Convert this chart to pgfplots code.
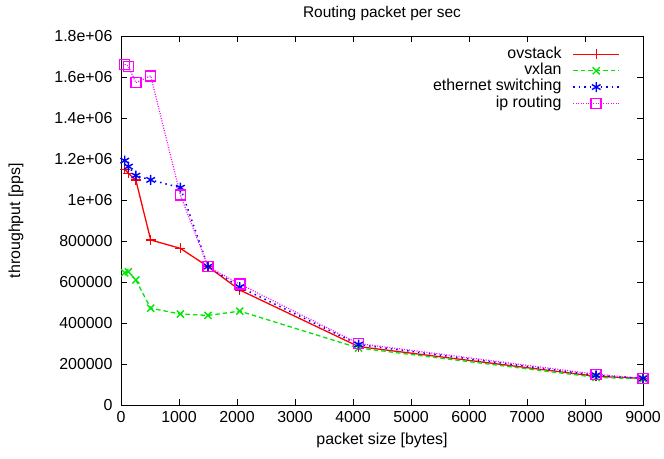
\documentclass[border=0pt]{standalone}
\usepackage{fontspec}
\setmainfont{Liberation Sans}
\usepackage{pgfplots}
\pgfplotsset{compat=1.18}
\definecolor{gpred}{RGB}{255,0,0}
\definecolor{gpgreen}{RGB}{0,230,0}
\definecolor{gpblue}{RGB}{0,0,255}
\definecolor{gpmag}{RGB}{255,0,255}

\begin{document}
\begin{tikzpicture}[x=1bp,y=1bp]
\begin{axis}[
    name=main,
    scale only axis,
    width=522bp,
    height=369bp,
    xmin=0, xmax=9000,
    ymin=0, ymax=1800000,
    xtick={0,1000,...,9000},
    ytick={0,200000,400000,600000,800000,1000000,1200000,1400000,1600000,1800000},
    yticklabels={0,200000,400000,600000,800000,1e+06,1.2e+06,1.4e+06,1.6e+06,1.8e+06},
    scaled ticks=false,
    /pgf/number format/set thousands separator={},
    /pgf/number format/fixed,
    /pgf/number format/assume math mode=true,
    tick align=inside,
    major tick length=6bp,
    axis line style={line width=1pt},
    tick style={line width=0.8pt, black},
    title={Routing packet per sec},
    title style={font=\fontsize{15.5}{17}\selectfont, at={(axis description cs:0.5,1.045)}, anchor=center},
    xlabel={packet size [bytes]},
    ylabel={throughput [pps]},
    tick label style={font=\fontsize{16}{18}\selectfont},
    xticklabel style={yshift=-3bp},
    yticklabel style={xshift=-5bp},
    label style={font=\fontsize{16}{18}\selectfont},
    xlabel style={at={(axis description cs:0.5,-0.095)}, anchor=center},
    ylabel style={at={(axis description cs:-0.201,0.5)}, anchor=center},
    legend style={
        at={(0.962,0.978)}, anchor=north east, draw=none, fill=none,
        font=\fontsize{16}{18}\selectfont, row sep=0bp,
        nodes={inner sep=0bp, text height=12bp, text depth=4.3bp},
    },
    legend cell align=right,
    legend plot pos=right,
    legend image code/.code={
        \path (0bp,0bp);
        \draw[mark repeat=2,mark phase=2] plot coordinates {(11bp,0bp) (34bp,0bp) (57bp,0bp)};
    },
]
\addplot[color=gpred, line width=1.3pt, mark=+, mark size=5bp, mark options={solid, line width=1.4pt}] coordinates {
    (64,1150000) (128,1130000) (256,1097000) (512,805000) (1024,764000)
    (1500,675000) (2048,561000) (4096,285000) (8192,140000) (9000,130000)
};
\addplot[color=gpgreen, line width=1.3pt, dash pattern=on 4.5pt off 3pt, mark=x, mark size=5bp, mark options={solid, line width=1.4pt}] coordinates {
    (64,645000) (128,650000) (256,610000) (512,472000) (1024,444000)
    (1500,437000) (2048,458000) (4096,278000) (8192,135000) (9000,128000)
};
\addplot[color=gpblue, line width=1.5pt, dash pattern=on 1.5pt off 4pt, mark=asterisk, mark size=5bp, mark options={solid, line width=1.4pt}] coordinates {
    (64,1192000) (128,1163000) (256,1119000) (512,1098000) (1024,1060000)
    (1500,675000) (2048,575000) (4096,295000) (8192,145000) (9000,130000)
};
\addplot[color=gpmag, line width=1.2pt, dash pattern=on 1pt off 1.5pt, mark=square, mark size=5bp, mark options={solid, line width=1.5pt, draw=gpmag}] coordinates {
    (64,1662000) (128,1652000) (256,1572000) (512,1606000) (1024,1024000)
    (1500,675000) (2048,590000) (4096,300000) (8192,150000) (9000,130000)
};
\legend{ovstack, vxlan, ethernet switching, ip routing}
\end{axis}
\path (main.south west) ++(-121bp,-53bp) coordinate (bbA);
\path (main.north east) ++(21bp,36bp) coordinate (bbB);
\pgfresetboundingbox
\useasboundingbox (bbA) rectangle (bbB);
\end{tikzpicture}
\end{document}
